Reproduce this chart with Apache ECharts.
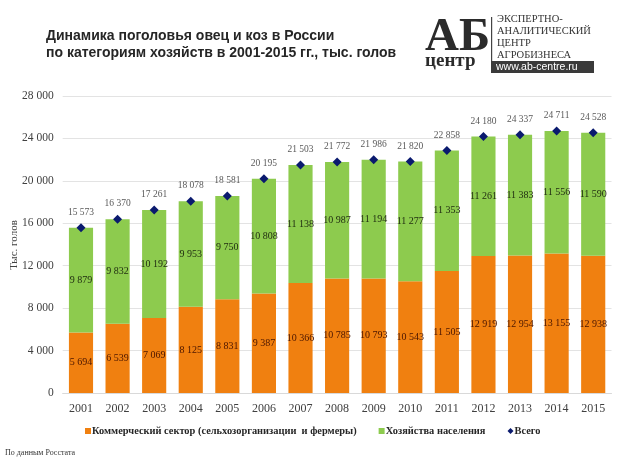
<!DOCTYPE html>
<html><head><meta charset="utf-8">
<script src="https://cdn.jsdelivr.net/npm/echarts@6/dist/echarts.min.js"></script>
<style>html,body{margin:0;padding:0;background:#fff}#c{width:621px;height:466px}</style>
</head><body><div id="c"></div>
<script>
var years = ['2001','2002','2003','2004','2005','2006','2007','2008','2009','2010','2011','2012','2013','2014','2015'];
var commercial = [5694,6539,7069,8125,8831,9387,10366,10785,10793,10543,11505,12919,12954,13155,12938];
var households = [9879,9832,10192,9953,9750,10808,11138,10987,11194,11277,11353,11261,11383,11556,11590];
var totals = [15573,16370,17261,18078,18581,20195,21503,21772,21986,21820,22858,24180,24337,24711,24528];
var yTicks = [0,4000,8000,12000,16000,20000,24000,28000];

function fmt(v){ return String(v).replace(/\B(?=(\d{3})+(?!\d))/g,' '); }
var serif = '"Liberation Serif","Times New Roman",serif';
var sans = '"Liberation Sans",Arial,sans-serif';

var chart = echarts.init(document.getElementById('c'), null, {renderer:'canvas'});
chart.setOption({
  animation:false,
  backgroundColor:'#fff',
  title:{
    text:'Динамика поголовья овец и коз в России\nпо категориям хозяйств в 2001-2015 гг., тыс. голов',
    left:41, top:23,
    textStyle:{fontFamily:sans, fontWeight:'bold', fontSize:14, color:'#262626', lineHeight:17}
  },
  grid:{left:62.7, right:9.5, top:96, bottom:73, containLabel:false, outerBoundsMode:'none'},
  legend:{
    left:80, top:421, itemWidth:6, itemHeight:6, itemGap:22,
    textStyle:{fontFamily:serif, fontWeight:'bold', fontSize:10.4, color:'#262626', padding:[0,0,0,-4]},
    data:[
      {name:'Коммерческий сектор (сельхозорганизации  и фермеры)', icon:'rect'},
      {name:'Хозяйства населения', icon:'rect'},
      {name:'Всего', icon:'diamond'}
    ]
  },
  xAxis:{
    type:'category', data:years,
    axisLine:{lineStyle:{color:'#D9D9D9'}}, axisTick:{show:false},
    axisLabel:{fontFamily:serif, fontSize:12, color:'#404040', margin:10}
  },
  yAxis:{
    type:'value', min:yTicks[0], max:yTicks[yTicks.length-1], interval:4000,
    axisLine:{show:false}, axisTick:{show:false},
    splitLine:{lineStyle:{color:'#E3E3E3'}},
    axisLabel:{fontFamily:serif, fontSize:11.5, color:'#404040', margin:9, formatter:function(v){return fmt(v);}}
  },
  series:[
    {name:'Коммерческий сектор (сельхозорганизации  и фермеры)', type:'bar', stack:'a', data:commercial,
      barWidth:'66%', itemStyle:{color:'#F08010'},
      label:{show:true, position:'inside', fontFamily:serif, fontSize:10, color:'#4A1500', formatter:function(p){return fmt(p.value);}}},
    {name:'Хозяйства населения', type:'bar', stack:'a', data:households,
      barWidth:'66%', itemStyle:{color:'#8DCB4E'},
      label:{show:true, position:'inside', fontFamily:serif, fontSize:10, color:'#1E2A10', formatter:function(p){return fmt(p.value);}}},
    {name:'Всего', type:'line', data:totals, symbol:'diamond', symbolSize:9,
      lineStyle:{width:0, opacity:0}, itemStyle:{color:'#0A1A6E'}, z:5,
      label:{show:true, position:'top', distance:6, fontFamily:serif, fontSize:9.5, color:'#595959', formatter:function(p){return fmt(p.value);}}}
  ],
  graphic:[
    {type:'text', x:14, y:245, rotation:Math.PI/2, style:{text:'Тыс. голов', fontFamily:serif, fontSize:11, fill:'#404040', textAlign:'center', textVerticalAlign:'middle'}},
    {type:'text', left:425, top:14, style:{text:'АБ', fontFamily:serif, fontWeight:'bold', fontSize:47, fill:'#2b2b2b'}},
    {type:'text', left:425, top:52, style:{text:'центр', fontFamily:serif, fontWeight:'bold', fontSize:19, fill:'#2b2b2b'}},
    {type:'rect', shape:{x:491, y:17, width:1.2, height:56}, style:{fill:'#444'}},
    {type:'text', left:497, top:13, style:{text:'ЭКСПЕРТНО-\nАНАЛИТИЧЕСКИЙ\nЦЕНТР\nАГРОБИЗНЕСА', fontFamily:serif, fontSize:10.5, lineHeight:12, fill:'#333'}},
    {type:'rect', shape:{x:491, y:61, width:103, height:12}, style:{fill:'#3a3a3a'}},
    {type:'text', left:496, top:61.5, style:{text:'www.ab-centre.ru', fontFamily:sans, fontSize:10.5, fill:'#fff'}},
    {type:'text', left:5, top:449, style:{text:'По данным Росстата', fontFamily:serif, fontSize:8, fill:'#333'}}
  ]
});
</script></body></html>
